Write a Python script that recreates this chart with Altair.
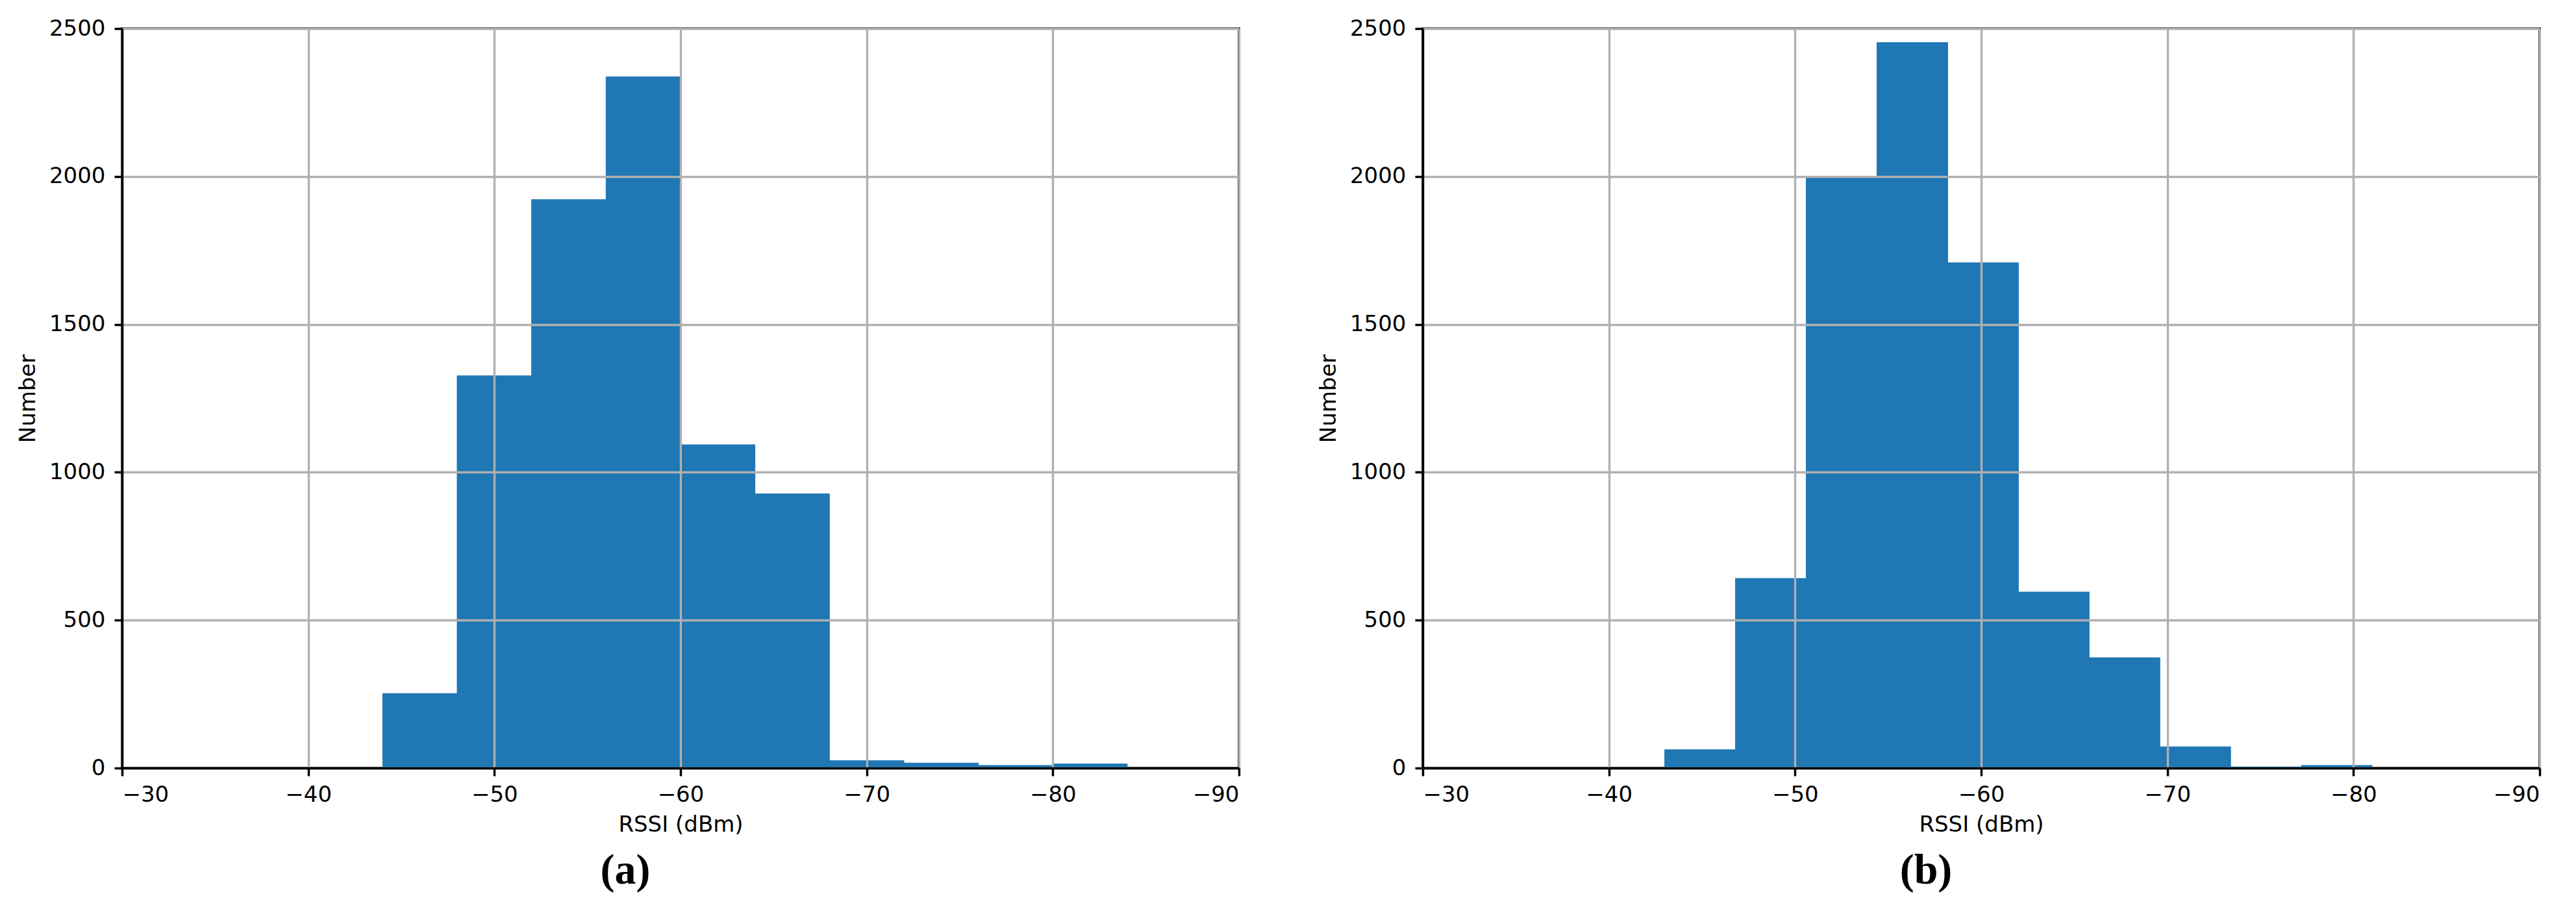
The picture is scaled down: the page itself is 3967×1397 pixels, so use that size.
import altair as alt
import pandas as pd

# Panel (a): bin edges (dBm) and counts
a_start = [-44, -48, -52, -56, -60, -64, -68, -72, -76, -80]
a_end = [-48, -52, -56, -60, -64, -68, -72, -76, -80, -84]
a_count = [252, 1326, 1922, 2337, 1093, 927, 25, 17, 9, 14]

# Panel (b): bin edges (dBm) and counts
b_start = [-43.0, -46.8, -50.6, -54.4, -58.2, -62.0, -65.8, -69.6, -73.4, -77.2]
b_end = [-46.8, -50.6, -54.4, -58.2, -62.0, -65.8, -69.6, -73.4, -77.2, -81.0]
b_count = [62, 641, 1996, 2453, 1708, 595, 373, 72, 4, 9]

x_ticks = [-30, -40, -50, -60, -70, -80, -90]
y_ticks = [0, 500, 1000, 1500, 2000, 2500]

BAR = "#1f77b4"
W, H = 1720, 1139


def panel(starts, ends, counts, caption):
    df = pd.DataFrame({"start": starts, "end": ends, "count": counts})
    return (
        alt.Chart(df)
        .mark_bar(color=BAR, stroke=BAR, strokeWidth=1)
        .encode(
            x=alt.X(
                "start:Q",
                scale=alt.Scale(domain=[-90, -30], reverse=True, nice=False, zero=False),
                axis=alt.Axis(values=x_ticks, format="d", title="RSSI (dBm)",
                              labelPadding=12, titlePadding=12, zindex=1),
            ),
            x2="end:Q",
            y=alt.Y(
                "count:Q",
                scale=alt.Scale(domain=[0, 2500], nice=False),
                axis=alt.Axis(values=y_ticks, format="d", title="Number",
                              labelPadding=14, titlePadding=15, zindex=1),
            ),
            y2=alt.datum(0),
        )
        .properties(
            width=W,
            height=H,
            title=alt.TitleParams(
                text=caption, orient="bottom", anchor="middle", frame="group",
                dx=-85, offset=22, font="Liberation Serif", fontSize=66,
                fontWeight="bold", color="black",
            ),
        )
    )


chart = (
    alt.hconcat(panel(a_start, a_end, a_count, "(a)"),
                panel(b_start, b_end, b_count, "(b)"), spacing=115)
    .properties(padding={"left": 16, "top": 17, "right": 5, "bottom": 5})
    .configure_view(stroke="black", strokeWidth=3.5)
    .configure_axis(
        domainColor="black", domainWidth=3.5,
        tickColor="black", tickWidth=3.5, tickSize=12,
        grid=True, gridColor="#b0b0b0", gridWidth=3.3,
        labelFont="DejaVu Sans", labelFontSize=34, labelColor="black",
        titleFont="DejaVu Sans", titleFontSize=34, titleFontWeight="normal",
        titleColor="black",
    )
)

chart.save("out.html", embed_options={"renderer": "svg", "actions": False})
